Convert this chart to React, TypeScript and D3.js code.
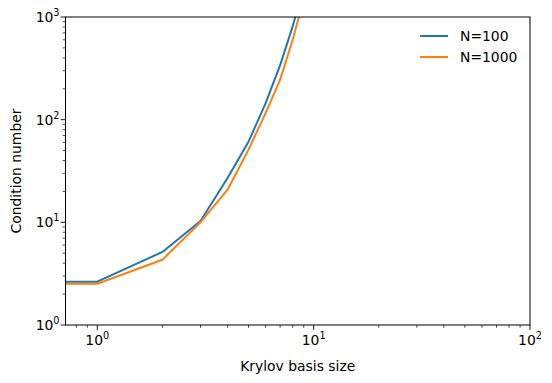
import React from "react";
import * as d3 from "d3";

const basisSize = [0, 1, 2, 3, 4, 5, 6, 7, 8, 9, 10];
const condN100 = [2.64, 2.64, 5.15, 10.3, 27, 61, 145, 340, 810, 2000, 4800];
const condN1000 = [2.52, 2.52, 4.32, 10.0, 20.8, 51, 116, 245, 600, 1500, 3600];
const seriesNames = ["N=100", "N=1000"];
const seriesColors = ["#1f77b4", "#ff7f0e"];
const xMajorTicks = [1, 10, 100];
const yMajorTicks = [1, 10, 100, 1000];

const W = 552, H = 383;
const L = 65.5, R = 530, T = 17, B = 325;

export default function App() {
  const x = d3.scaleLog().domain([0.713, 100]).range([L, R]);
  const y = d3.scaleLog().domain([1, 1000]).range([B, T]);
  const xs = (v: number) => (v <= 0 ? L - 1000 : x(v));
  const line = d3
    .line<[number, number]>()
    .x((d) => xs(d[0]))
    .y((d) => y(d[1]));
  const series = [condN100, condN1000];

  const xMinor: number[] = [];
  for (let e = -1; e < 2; e++)
    for (let m = 2; m <= 9; m++) {
      const v = m * Math.pow(10, e);
      if (v >= 0.713 && v <= 100) xMinor.push(v);
    }
  const yMinor: number[] = [];
  for (let e = 0; e < 3; e++)
    for (let m = 2; m <= 9; m++) yMinor.push(m * Math.pow(10, e));

  const font = "DejaVu Sans, sans-serif";
  const exp = (v: number) => Math.round(Math.log10(v));

  return (
    <svg width={W} height={H} style={{ position: "absolute", left: 0, top: 0 }} fontFamily={font}>
      <rect width={W} height={H} fill="white" />
      <defs>
        <clipPath id="plot">
          <rect x={L} y={T} width={R - L} height={B - T} />
        </clipPath>
      </defs>
      <g clipPath="url(#plot)">
        {series.map((s, i) => (
          <path
            key={i}
            d={line(basisSize.map((b, j) => [b, s[j]] as [number, number])) || ""}
            fill="none"
            stroke={seriesColors[i]}
            strokeWidth={2}
            strokeLinejoin="round"
            strokeLinecap="square"
          />
        ))}
      </g>
      <rect x={L} y={T} width={R - L} height={B - T} fill="none" stroke="black" strokeWidth={1} />
      {/* x ticks */}
      {xMajorTicks.map((t) => (
        <g key={"xm" + t}>
          <line x1={x(t)} x2={x(t)} y1={B} y2={B + 4.9} stroke="black" strokeWidth={0.9} />
          <text x={x(t)} y={B + 20} fontSize={13.9} textAnchor="middle">
            10<tspan fontSize={9.7} dy={-6}>{exp(t)}</tspan>
          </text>
        </g>
      ))}
      {xMinor.map((t, i) => (
        <line key={"xn" + i} x1={x(t)} x2={x(t)} y1={B} y2={B + 2.8} stroke="black" strokeWidth={0.7} />
      ))}
      {/* y ticks */}
      {yMajorTicks.map((t) => (
        <g key={"ym" + t}>
          <line x1={L} x2={L - 4.9} y1={y(t)} y2={y(t)} stroke="black" strokeWidth={0.9} />
          <text x={L - 6} y={y(t) + 5} fontSize={13.9} textAnchor="end">
            10<tspan fontSize={9.7} dy={-6}>{exp(t)}</tspan>
          </text>
        </g>
      ))}
      {yMinor.map((t, i) => (
        <line key={"yn" + i} x1={L} x2={L - 2.8} y1={y(t)} y2={y(t)} stroke="black" strokeWidth={0.7} />
      ))}
      <text x={(L + R) / 2} y={371} fontSize={13.9} textAnchor="middle">
        Krylov basis size
      </text>
      <text
        transform={`translate(21, ${(T + B) / 2}) rotate(-90)`}
        fontSize={13.9}
        textAnchor="middle"
      >
        Condition number
      </text>
      {/* legend */}
      {seriesNames.map((n, i) => (
        <g key={n}>
          <line x1={420} x2={448} y1={36 + i * 21} y2={36 + i * 21} stroke={seriesColors[i]} strokeWidth={2} />
          <text x={460} y={41 + i * 21} fontSize={13.9}>
            {n}
          </text>
        </g>
      ))}
    </svg>
  );
}
